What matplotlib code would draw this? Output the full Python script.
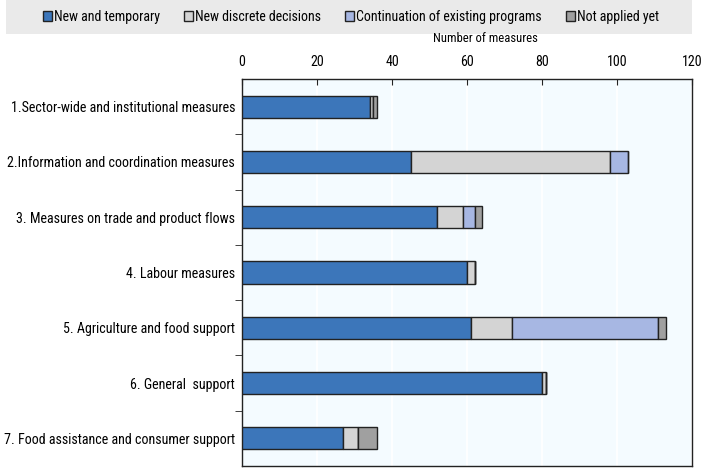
import matplotlib.pyplot as plt
import numpy as np
from matplotlib.patches import Rectangle

plt.rcParams['font.family'] = ['Roboto Condensed', 'Liberation Sans', 'DejaVu Sans']

categories = ['1.Sector-wide and institutional measures',
              '2.Information and coordination measures',
              '3. Measures on trade and product flows',
              '4. Labour measures',
              '5. Agriculture and food support',
              '6. General  support',
              '7. Food assistance and consumer support']
series = ['New and temporary', 'New discrete decisions',
          'Continuation of existing programs', 'Not applied yet']
new_temp = [34, 45, 52, 60, 61, 80, 27]
new_discrete = [1, 53, 7, 2, 11, 1, 4]
continuation = [0, 5, 3, 0, 39, 0, 0]
not_applied = [1, 0, 2, 0, 2, 0, 5]
colors = ['#3C76BA', '#D4D4D4', '#A7B7E3', '#A0A0A0']

W, H = 703, 468
fig = plt.figure(figsize=(W / 100, H / 100), dpi=100)
ax = fig.add_axes([242 / W, 1 - 466 / H, 450 / W, 387 / H])
ax.set_facecolor('#F4FBFF')

# fit the label size so the longest label spans about 231 px, as in the reference
r = fig.canvas.get_renderer()
probe = fig.text(0, 0, categories[6], fontsize=10)
lab_fs = 10 * 231 / probe.get_window_extent(r).width
probe.remove()

y = np.arange(len(categories))
left = np.zeros(len(categories))
for vals, name, c in zip([new_temp, new_discrete, continuation, not_applied], series, colors):
    vals = np.array(vals, dtype=float)
    ax.barh(y, vals, left=left, height=0.4, color=c, edgecolor='#222222',
            linewidth=1.0, label=name, zorder=3)
    left += vals

ax.set_xlim(0, 120)
ax.set_ylim(len(categories) - 0.5, -0.5)
ax.set_xticks(np.arange(0, 121, 20))
ax.xaxis.tick_top()
ax.tick_params(axis='x', direction='in', length=4, labelsize=lab_fs, pad=7, color='#222222')
fig.text(485 / W, 1 - 38 / H, 'Number of measures', fontsize=lab_fs * 0.9, ha='center', va='center')
ax.set_yticks(y)
ax.set_yticklabels(categories, fontsize=lab_fs)
ax.set_yticks(np.arange(0.5, len(categories) - 0.5, 1), minor=True)
ax.tick_params(axis='y', which='major', length=0, pad=5)
ax.tick_params(axis='y', which='minor', direction='out', length=5, color='#222222')
ax.grid(axis='x', color='white', linewidth=1.2, zorder=0)
for s in ax.spines.values():
    s.set_color('#222222')
    s.set_linewidth(1.0)

# grey legend band
fig.patches.append(Rectangle((6 / W, 1 - 34 / H), 686 / W, 34 / H, transform=fig.transFigure,
                             facecolor='#EAEAEA', edgecolor='none', zorder=0))
handles, labels = ax.get_legend_handles_labels()
leg = fig.legend(handles, labels, loc='center', bbox_to_anchor=(351 / W, 1 - 17 / H),
                 ncol=4, fontsize=lab_fs * 0.99, frameon=False,
                 handlelength=0.65, handleheight=0.65, handletextpad=0.15,
                 columnspacing=1.75, borderaxespad=0)

fig.savefig('out.png', dpi=100)
